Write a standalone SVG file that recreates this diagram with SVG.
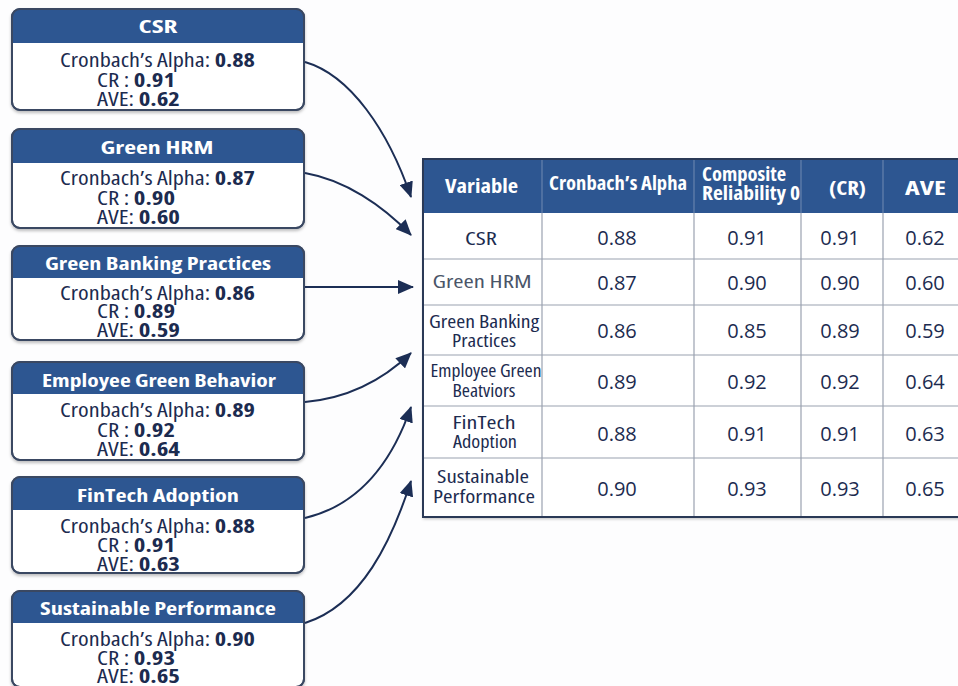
<svg xmlns="http://www.w3.org/2000/svg" width="958" height="686" viewBox="0 0 958 686">
<style>
.bg{fill:#fdfdfe}
.box{fill:#ffffff;stroke:#3a4862;stroke-width:2}
.hdr{fill:#2d5691}
.ttl{font-family:"Open Sans","Liberation Sans",sans-serif;font-weight:700;font-size:18px;fill:#ffffff;text-anchor:middle;font-stretch:condensed}
.bd{font-family:"Open Sans","Liberation Sans",sans-serif;font-weight:500;font-size:20px;fill:#1c2b4f;font-stretch:condensed}
.b{font-weight:700}
.th{font-family:"Open Sans","Liberation Sans",sans-serif;font-weight:700;font-size:20px;fill:#ffffff;font-stretch:condensed}
.tv{font-family:"Open Sans","Liberation Sans",sans-serif;font-weight:500;font-size:18px;fill:#1c2b4f;text-anchor:middle;font-stretch:condensed}
.tn{font-family:"Open Sans","Liberation Sans",sans-serif;font-weight:500;font-size:20px;fill:#1c2b4f;text-anchor:middle}
.grid{stroke:#9aa2b0;stroke-width:1.2}
.hgrid{stroke:#6683ad;stroke-width:1.2}
.conn{fill:none;stroke:#1c2e55;stroke-width:2}
</style>
<defs>
<marker id="ah" viewBox="0 0 16 14" markerWidth="16" markerHeight="14" refX="15" refY="7" orient="auto" markerUnits="userSpaceOnUse">
<path d="M0,0 L16,7 L0,14 z" fill="#1c2e55"/>
</marker>
<filter id="sh" x="-5%" y="-5%" width="110%" height="115%">
<feDropShadow dx="0" dy="2" stdDeviation="1.5" flood-color="#000" flood-opacity="0.25"/>
</filter>
</defs>
<rect class="bg" x="0" y="0" width="958" height="686"/>

<g id="node-csr">
<rect class="box" x="12" y="9" width="292" height="101" rx="8" filter="url(#sh)"/>
<path class="hdr" d="M12,17 a8,8 0 0 1 8,-8 h276 a8,8 0 0 1 8,8 v26 h-292 z"/>
<rect x="12" y="9" width="292" height="101" rx="8" fill="none" stroke="#3a4862" stroke-width="2"/>
<text class="ttl" x="158" y="33" textLength="39" lengthAdjust="spacingAndGlyphs">CSR</text>
<text class="bd" x="60" y="67" textLength="195" lengthAdjust="spacingAndGlyphs">Cronbach’s Alpha: <tspan class="b">0.88</tspan></text>
<text class="bd" x="97" y="87" textLength="78" lengthAdjust="spacingAndGlyphs">CR : <tspan class="b">0.91</tspan></text>
<text class="bd" x="97" y="106" textLength="83" lengthAdjust="spacingAndGlyphs">AVE: <tspan class="b">0.62</tspan></text>
</g>

<g id="node-ghrm">
<rect class="box" x="12" y="129" width="292" height="99" rx="8" filter="url(#sh)"/>
<path class="hdr" d="M12,137 a8,8 0 0 1 8,-8 h276 a8,8 0 0 1 8,8 v26 h-292 z"/>
<rect x="12" y="129" width="292" height="99" rx="8" fill="none" stroke="#3a4862" stroke-width="2"/>
<text class="ttl" x="157" y="154" textLength="113" lengthAdjust="spacingAndGlyphs">Green HRM</text>
<text class="bd" x="60" y="185" textLength="195" lengthAdjust="spacingAndGlyphs">Cronbach’s Alpha: <tspan class="b">0.87</tspan></text>
<text class="bd" x="97" y="205" textLength="78" lengthAdjust="spacingAndGlyphs">CR : <tspan class="b">0.90</tspan></text>
<text class="bd" x="97" y="224" textLength="83" lengthAdjust="spacingAndGlyphs">AVE: <tspan class="b">0.60</tspan></text>
</g>

<g id="node-gbp">
<rect class="box" x="12" y="246" width="292" height="94" rx="8" filter="url(#sh)"/>
<path class="hdr" d="M12,254 a8,8 0 0 1 8,-8 h276 a8,8 0 0 1 8,8 v24 h-292 z"/>
<rect x="12" y="246" width="292" height="94" rx="8" fill="none" stroke="#3a4862" stroke-width="2"/>
<text class="ttl" x="158" y="270" textLength="226" lengthAdjust="spacingAndGlyphs">Green Banking Practices</text>
<text class="bd" x="60" y="300" textLength="195" lengthAdjust="spacingAndGlyphs">Cronbach’s Alpha: <tspan class="b">0.86</tspan></text>
<text class="bd" x="97" y="318" textLength="78" lengthAdjust="spacingAndGlyphs">CR : <tspan class="b">0.89</tspan></text>
<text class="bd" x="97" y="337" textLength="83" lengthAdjust="spacingAndGlyphs">AVE: <tspan class="b">0.59</tspan></text>
</g>

<g id="node-egb">
<rect class="box" x="12" y="362" width="292" height="98" rx="8" filter="url(#sh)"/>
<path class="hdr" d="M12,370 a8,8 0 0 1 8,-8 h276 a8,8 0 0 1 8,8 v24 h-292 z"/>
<rect x="12" y="362" width="292" height="98" rx="8" fill="none" stroke="#3a4862" stroke-width="2"/>
<text class="ttl" x="159" y="387" textLength="234" lengthAdjust="spacingAndGlyphs">Employee Green Behavior</text>
<text class="bd" x="60" y="417" textLength="195" lengthAdjust="spacingAndGlyphs">Cronbach’s Alpha: <tspan class="b">0.89</tspan></text>
<text class="bd" x="97" y="437" textLength="78" lengthAdjust="spacingAndGlyphs">CR : <tspan class="b">0.92</tspan></text>
<text class="bd" x="97" y="456" textLength="83" lengthAdjust="spacingAndGlyphs">AVE: <tspan class="b">0.64</tspan></text>
</g>

<g id="node-fta">
<rect class="box" x="12" y="477" width="292" height="96" rx="8" filter="url(#sh)"/>
<path class="hdr" d="M12,485 a8,8 0 0 1 8,-8 h276 a8,8 0 0 1 8,8 v25 h-292 z"/>
<rect x="12" y="477" width="292" height="96" rx="8" fill="none" stroke="#3a4862" stroke-width="2"/>
<text class="ttl" x="158" y="502" textLength="162" lengthAdjust="spacingAndGlyphs">FinTech Adoption</text>
<text class="bd" x="60" y="533" textLength="195" lengthAdjust="spacingAndGlyphs">Cronbach’s Alpha: <tspan class="b">0.88</tspan></text>
<text class="bd" x="97" y="552" textLength="78" lengthAdjust="spacingAndGlyphs">CR : <tspan class="b">0.91</tspan></text>
<text class="bd" x="97" y="571" textLength="83" lengthAdjust="spacingAndGlyphs">AVE: <tspan class="b">0.63</tspan></text>
</g>

<g id="node-sp">
<rect class="box" x="12" y="591" width="292" height="96" rx="8" filter="url(#sh)"/>
<path class="hdr" d="M12,599 a8,8 0 0 1 8,-8 h276 a8,8 0 0 1 8,8 v24 h-292 z"/>
<rect x="12" y="591" width="292" height="96" rx="8" fill="none" stroke="#3a4862" stroke-width="2"/>
<text class="ttl" x="158" y="615" textLength="236" lengthAdjust="spacingAndGlyphs">Sustainable Performance</text>
<text class="bd" x="60" y="646" textLength="195" lengthAdjust="spacingAndGlyphs">Cronbach’s Alpha: <tspan class="b">0.90</tspan></text>
<text class="bd" x="97" y="665" textLength="78" lengthAdjust="spacingAndGlyphs">CR : <tspan class="b">0.93</tspan></text>
<text class="bd" x="97" y="683" textLength="83" lengthAdjust="spacingAndGlyphs">AVE: <tspan class="b">0.65</tspan></text>
</g>

<g id="table">
<rect x="423" y="159" width="545" height="358" fill="#ffffff" filter="url(#sh)"/>
<rect class="hdr" x="423" y="159" width="545" height="54"/>
<g class="hgrid">
<line x1="542" y1="159" x2="542" y2="213"/>
<line x1="694" y1="159" x2="694" y2="213"/>
<line x1="801" y1="159" x2="801" y2="213"/>
<line x1="883" y1="159" x2="883" y2="213"/>
</g>
<g class="grid">
<line x1="542" y1="213" x2="542" y2="517"/>
<line x1="694" y1="213" x2="694" y2="517"/>
<line x1="801" y1="213" x2="801" y2="517"/>
<line x1="883" y1="213" x2="883" y2="517"/>
<line x1="423" y1="259" x2="968" y2="259"/>
<line x1="423" y1="305" x2="968" y2="305"/>
<line x1="423" y1="355" x2="968" y2="355"/>
<line x1="423" y1="406" x2="968" y2="406"/>
<line x1="423" y1="458" x2="968" y2="458"/>
</g>
<rect x="423" y="159" width="545" height="358" fill="none" stroke="#2a3956" stroke-width="2"/>
<text class="th" x="445" y="193" textLength="73" lengthAdjust="spacingAndGlyphs">Variable</text>
<text class="th" x="549" y="190" textLength="138" lengthAdjust="spacingAndGlyphs">Cronbach’s Alpha</text>
<text class="th" x="702" y="181" textLength="84" lengthAdjust="spacingAndGlyphs" font-size="18">Composite</text>
<text class="th" x="702" y="200" textLength="98" lengthAdjust="spacingAndGlyphs" font-size="18">Reliability 0</text>
<text class="th" x="829" y="195" textLength="37" lengthAdjust="spacingAndGlyphs">(CR)</text>
<text class="th" x="905" y="195" textLength="41" lengthAdjust="spacingAndGlyphs">AVE</text>

<text class="tv" x="481" y="245" textLength="32" lengthAdjust="spacingAndGlyphs">CSR</text>
<text class="tv" x="482" y="288" textLength="99" lengthAdjust="spacingAndGlyphs" style="fill:#4a5568" font-size="19">Green HRM</text>
<text class="tv" x="484" y="328" textLength="110" lengthAdjust="spacingAndGlyphs" font-size="17">Green Banking</text>
<text class="tv" x="484" y="347" textLength="64" lengthAdjust="spacingAndGlyphs" font-size="17">Practices</text>
<text class="tv" x="486" y="377" textLength="111" lengthAdjust="spacingAndGlyphs" font-size="16">Employee Green</text>
<text class="tv" x="484" y="397" textLength="63" lengthAdjust="spacingAndGlyphs" font-size="16">Beatviors</text>
<text class="tv" x="484" y="429" textLength="63" lengthAdjust="spacingAndGlyphs" font-size="19">FinTech</text>
<text class="tv" x="485" y="448" textLength="64" lengthAdjust="spacingAndGlyphs" font-size="19">Adoption</text>
<text class="tv" x="483" y="483" textLength="92" lengthAdjust="spacingAndGlyphs" font-size="19">Sustainable</text>
<text class="tv" x="484" y="503" textLength="102" lengthAdjust="spacingAndGlyphs" font-size="19">Performance</text>

<text class="tn" x="617" y="245">0.88</text>
<text class="tn" x="747" y="245">0.91</text>
<text class="tn" x="840" y="245">0.91</text>
<text class="tn" x="925" y="245">0.62</text>

<text class="tn" x="617" y="290">0.87</text>
<text class="tn" x="747" y="290">0.90</text>
<text class="tn" x="840" y="290">0.90</text>
<text class="tn" x="925" y="290">0.60</text>

<text class="tn" x="617" y="338">0.86</text>
<text class="tn" x="747" y="338">0.85</text>
<text class="tn" x="840" y="338">0.89</text>
<text class="tn" x="925" y="338">0.59</text>

<text class="tn" x="617" y="389">0.89</text>
<text class="tn" x="747" y="389">0.92</text>
<text class="tn" x="840" y="389">0.92</text>
<text class="tn" x="925" y="389">0.64</text>

<text class="tn" x="617" y="441">0.88</text>
<text class="tn" x="747" y="441">0.91</text>
<text class="tn" x="840" y="441">0.91</text>
<text class="tn" x="925" y="441">0.63</text>

<text class="tn" x="617" y="496">0.90</text>
<text class="tn" x="747" y="496">0.93</text>
<text class="tn" x="840" y="496">0.93</text>
<text class="tn" x="925" y="496">0.65</text>
</g>

<g id="connectors">
<path class="conn" d="M305,62 C350,75 388,130 411,197" marker-end="url(#ah)"/>
<path class="conn" d="M305,173 C345,180 382,205 411,235" marker-end="url(#ah)"/>
<path class="conn" d="M305,287 L413,287" marker-end="url(#ah)"/>
<path class="conn" d="M305,402 C350,398 385,378 411,353" marker-end="url(#ah)"/>
<path class="conn" d="M305,518 C360,505 392,462 411,407" marker-end="url(#ah)"/>
<path class="conn" d="M305,623 C362,605 392,540 411,481" marker-end="url(#ah)"/>
</g>
</svg>
